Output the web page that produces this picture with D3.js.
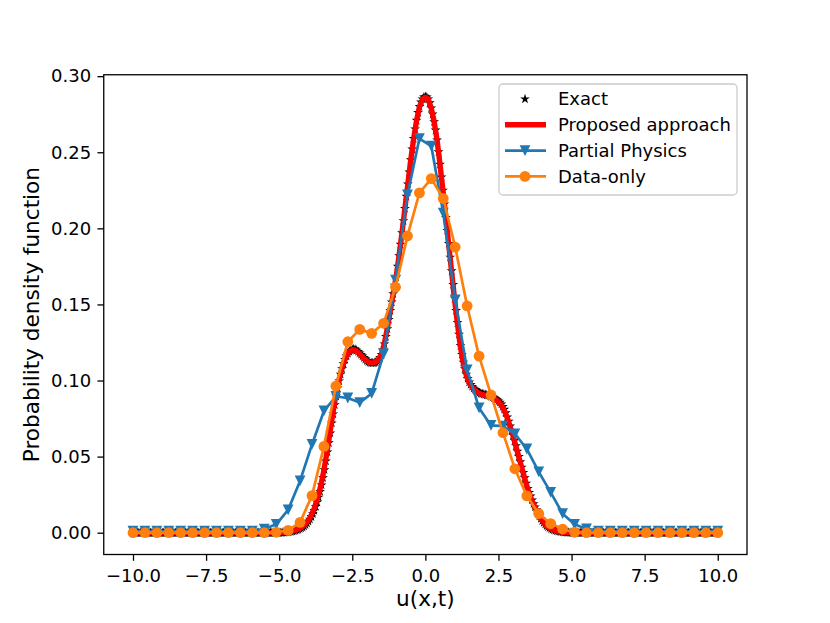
<!DOCTYPE html>
<html>
<head>
<meta charset="utf-8">
<script src="https://cdn.jsdelivr.net/npm/d3@7"></script>
<style>
body { margin: 0; background: #fff; }
svg { font-family: "DejaVu Sans", sans-serif; }
</style>
</head>
<body>
<div id="container"><svg></svg></div>
<script>
// exact solution, u = -10 .. 10 step 0.05
const exactVals = [
    0,0,0,0,0,0,0,0,0,0,0,0,0,0,0,0,0,0,0,0,
    0,0,0,0,0,0,0,0,0,0,0,0,0,0,0,0,0,0,0,0,
    0,0,0,0,0,0,0,0,0,0,0,0,0,0,0,0,0,0,0,0,
    0,0,0,0,0,0,0,0,0,0,0,0,0,0,0,0,0,0,0,0,
    0,0,0,0,0,0,0,0,0,0,0,0,0,0,0,0,0,0,0,0,
    0, 0.00005, 0.0001, 0.00015, 0.0002, 0.0003, 0.0004, 0.0005, 0.0007, 0.0009, 0.0011, 0.0014, 0.0017, 0.0021, 0.0025, 0.003, 0.0036, 0.0043, 0.0052, 0.0062,
    0.0074, 0.0088, 0.0105, 0.0124, 0.0145, 0.0171, 0.020, 0.0233, 0.027, 0.0313, 0.036, 0.0413, 0.047, 0.053, 0.059, 0.0655, 0.072, 0.078, 0.084, 0.0897,
    0.095, 0.0997, 0.104, 0.1077, 0.111, 0.1137, 0.116, 0.1177, 0.119, 0.1199, 0.1205, 0.1207, 0.1205, 0.1199, 0.119, 0.118, 0.117, 0.116, 0.115, 0.114,
    0.113, 0.1123, 0.1118, 0.1115, 0.1115, 0.1116, 0.112, 0.1126, 0.1135, 0.115, 0.117, 0.120, 0.124, 0.1288, 0.134, 0.140, 0.146, 0.1515, 0.157, 0.1625,
    0.168, 0.175, 0.182, 0.1895, 0.197, 0.205, 0.213, 0.221, 0.229, 0.237, 0.245, 0.252, 0.259, 0.2653, 0.271, 0.276, 0.280, 0.283, 0.285, 0.2862,
    0.2866,
    0.2862, 0.285, 0.2825, 0.279, 0.275, 0.270, 0.2645, 0.258, 0.2503, 0.242, 0.2337, 0.225, 0.216, 0.207, 0.1985, 0.190, 0.181, 0.172, 0.163, 0.154,
    0.146, 0.138, 0.1303, 0.123, 0.117, 0.112, 0.1077, 0.104, 0.1013, 0.099, 0.0973, 0.096, 0.0949, 0.094, 0.0932, 0.0925, 0.092, 0.0915, 0.0912, 0.091,
    0.0907, 0.0905, 0.0903, 0.090, 0.0895, 0.089, 0.0885, 0.088, 0.0873, 0.0865, 0.0856, 0.0845, 0.0829, 0.081, 0.0787, 0.076, 0.0731, 0.070, 0.067, 0.064,
    0.0605, 0.057, 0.0535, 0.050, 0.0465, 0.043, 0.0395, 0.036, 0.0325, 0.029, 0.0263, 0.024, 0.0214, 0.019, 0.0169, 0.015, 0.0129, 0.011, 0.0093, 0.0078,
    0.0066, 0.0055, 0.0046, 0.0038, 0.0032, 0.0026, 0.0021, 0.0017, 0.0014, 0.0011, 0.0009, 0.0007, 0.0005, 0.0004, 0.0003, 0.0002, 0.00015, 0.0001, 0.00005, 0,
    0,0,0,0,0,0,0,0,0,0,0,0,0,0,0,0,0,0,0,0,
    0,0,0,0,0,0,0,0,0,0,0,0,0,0,0,0,0,0,0,0,
    0,0,0,0,0,0,0,0,0,0,0,0,0,0,0,0,0,0,0,0,
    0,0,0,0,0,0,0,0,0,0,0,0,0,0,0,0,0,0,0,0,
    0,0,0,0,0,0,0,0,0,0,0,0,0,0,0,0,0,0,0,0
];

// proposed approach, u = -10 .. 10 step 0.1
const proposedVals = [
    0,0,0,0,0,0,0,0,0,0,0,0,0,0,0,0,0,0,0,0,0,0,0,0,0,
    0,0,0,0,0,0,0,0,0,0,0,0,0,0,0,0,0,0,0,0,0,0,0,0,0,
    0, 0.0001, 0.0002, 0.0005, 0.0008, 0.0013, 0.0019, 0.0028, 0.0040, 0.0058,
    0.0082, 0.0116, 0.016, 0.022, 0.029, 0.038, 0.049, 0.061, 0.074, 0.086,
    0.096, 0.105, 0.1115, 0.116, 0.119, 0.1202, 0.120, 0.1185, 0.1165, 0.1145,
    0.1128, 0.1117, 0.1115, 0.1122, 0.114, 0.1175, 0.1245, 0.1345, 0.146, 0.157,
    0.168, 0.182, 0.197, 0.213, 0.229, 0.245, 0.259, 0.271, 0.280, 0.2848,
    0.2862, 0.2848, 0.279, 0.270, 0.258, 0.242, 0.225, 0.207, 0.189, 0.171,
    0.153, 0.137, 0.122, 0.111, 0.1035, 0.0985, 0.0955, 0.0935, 0.092, 0.091,
    0.0905, 0.090, 0.0895, 0.0888, 0.0877, 0.086, 0.0838, 0.0803, 0.0755, 0.0697,
    0.0635, 0.0565, 0.0495, 0.0425, 0.0355, 0.0288, 0.0235, 0.0187, 0.0147, 0.0108,
    0.0076, 0.0053, 0.0036, 0.0024, 0.0016, 0.001, 0.0006, 0.0003, 0.0002, 0.0001,
    0,
    0,0,0,0,0,0,0,0,0,0,0,0,0,0,0,0,0,0,0,0,0,0,0,0,0,
    0,0,0,0,0,0,0,0,0,0,0,0,0,0,0,0,0,0,0,0,0,0,0,0,0
];

// 50 sample points from -10 to 10
const partialVals = [
    0.001, 0.001, 0.001, 0.001, 0.001, 0.001, 0.001, 0.001, 0.001, 0.001,
    0.001, 0.0024, 0.0055, 0.015, 0.034, 0.058, 0.080, 0.0895, 0.0885, 0.0855,
    0.0915, 0.1175, 0.166, 0.222, 0.259, 0.254, 0.210, 0.153, 0.107, 0.082,
    0.0705, 0.070, 0.065, 0.055, 0.040, 0.0265, 0.0125, 0.0055, 0.0025, 0.001,
    0.001, 0.001, 0.001, 0.001, 0.001, 0.001, 0.001, 0.001, 0.001, 0.001
];
const dataOnlyVals = [
    0, 0, 0, 0, 0, 0, 0, 0, 0, 0,
    0, 0, 0.0003, 0.0015, 0.0068, 0.0244, 0.0567, 0.0963, 0.1255, 0.1336,
    0.131, 0.1376, 0.1613, 0.195, 0.2233, 0.2327, 0.2196, 0.1877, 0.149, 0.116,
    0.0905, 0.0657, 0.042, 0.0242, 0.0125, 0.006, 0.0024, 0.0003, 0, 0,
    0, 0, 0, 0, 0, 0, 0, 0, 0, 0
];

const xTicks = [-10, -7.5, -5, -2.5, 0, 2.5, 5, 7.5, 10];
const yTicks = [0, 0.05, 0.10, 0.15, 0.20, 0.25, 0.30];
const legendNames = ['Exact', 'Proposed approach', 'Partial Physics', 'Data-only'];

let width = 830;
let height = 623;
let padding = {'left': 103.75, 'right': 83, 'top': 74.76, 'bottom': 68.5};

// sample grids (like np.linspace)
const exactU = d3.range(exactVals.length).map(i => -10 + i * 0.05);
const proposedU = d3.range(proposedVals.length).map(i => -10 + i * 0.1);
const sampleU = d3.range(partialVals.length).map(i => -10 + i * 20 / 49);

function draw_chart() {
    let svg = d3.select('#container').select('svg')
        .attr('width', width)
        .attr('height', height);

    // matplotlib style 5% margins
    let xExt = d3.extent(exactU);
    let yExt = d3.extent(exactVals.concat(proposedVals, partialVals, dataOnlyVals));
    let xm = (xExt[1] - xExt[0]) * 0.05;
    let ym = (yExt[1] - yExt[0]) * 0.05;
    let x = d3.scaleLinear().domain([xExt[0] - xm, xExt[1] + xm]).range([padding.left, width - padding.right]);
    let y = d3.scaleLinear().domain([yExt[0] - ym, yExt[1] + ym]).range([height - padding.bottom, padding.top]);

    let plot = svg.append('g');

    // exact: black stars
    let star = d3.symbol().type(d3.symbolStar).size(30);
    plot.append('g').selectAll('path')
        .data(exactVals)
        .enter()
        .append('path')
        .attr('transform', (d, i) => 'translate(' + x(exactU[i]) + ',' + y(d) + ')')
        .attr('d', star)
        .attr('fill', 'black');

    // proposed: thick red line
    let line = d3.line()
        .x(d => x(d[0]))
        .y(d => y(d[1]));
    plot.append('path')
        .datum(proposedVals.map((d, i) => [proposedU[i], d]))
        .attr('d', line)
        .attr('fill', 'none')
        .attr('stroke', 'red')
        .attr('stroke-width', 5.4)
        .attr('stroke-linejoin', 'round');

    // partial physics: blue line with down triangles
    let tri = 'M0,5.4L-5.4,-5.4L5.4,-5.4Z';
    plot.append('path')
        .datum(partialVals.map((d, i) => [sampleU[i], d]))
        .attr('d', line)
        .attr('fill', 'none')
        .attr('stroke', '#1f77b4')
        .attr('stroke-width', 2.7)
        .attr('stroke-linejoin', 'round');
    plot.append('g').selectAll('path')
        .data(partialVals)
        .enter()
        .append('path')
        .attr('transform', (d, i) => 'translate(' + x(sampleU[i]) + ',' + y(d) + ')')
        .attr('d', tri)
        .attr('fill', '#1f77b4');

    // data-only: orange line with circles
    plot.append('path')
        .datum(dataOnlyVals.map((d, i) => [sampleU[i], d]))
        .attr('d', line)
        .attr('fill', 'none')
        .attr('stroke', '#ff7f0e')
        .attr('stroke-width', 2.7)
        .attr('stroke-linejoin', 'round');
    plot.append('g').selectAll('circle')
        .data(dataOnlyVals)
        .enter()
        .append('circle')
        .attr('cx', (d, i) => x(sampleU[i]))
        .attr('cy', d => y(d))
        .attr('r', 5.4)
        .attr('fill', '#ff7f0e');

    // axes
    let xAxis = d3.axisBottom(x)
        .tickValues(xTicks)
        .tickFormat(d3.format('.1f'))
        .tickSize(6.3)
        .tickPadding(8);
    svg.append('g')
        .attr('transform', 'translate(0,' + (height - padding.bottom) + ')')
        .call(xAxis)
        .attr('font-size', 18)
        .attr('font-family', 'DejaVu Sans')
        .call(g => g.select('.domain').remove())
        .call(g => g.selectAll('line').attr('stroke-width', 1.3));

    let yAxis = d3.axisLeft(y)
        .tickValues(yTicks)
        .tickFormat(d3.format('.2f'))
        .tickSize(6.3)
        .tickPadding(6.3);
    svg.append('g')
        .attr('transform', 'translate(' + padding.left + ',0)')
        .call(yAxis)
        .attr('font-size', 18)
        .attr('font-family', 'DejaVu Sans')
        .call(g => g.select('.domain').remove())
        .call(g => g.selectAll('line').attr('stroke-width', 1.3));

    // frame
    svg.append('rect')
        .attr('x', padding.left)
        .attr('y', padding.top)
        .attr('width', width - padding.left - padding.right)
        .attr('height', height - padding.top - padding.bottom)
        .attr('fill', 'none')
        .attr('stroke', 'black')
        .attr('stroke-width', 1.3);

    // labels
    svg.append('text')
        .attr('x', (padding.left + width - padding.right) / 2)
        .attr('y', 606)
        .attr('text-anchor', 'middle')
        .attr('font-size', 21.6)
        .text('u(x,t)');
    svg.append('text')
        .attr('transform', 'translate(39,' + ((padding.top + height - padding.bottom) / 2) + ') rotate(-90)')
        .attr('text-anchor', 'middle')
        .attr('font-size', 21.6)
        .text('Probability density function');

    // legend
    let lg = svg.append('g').attr('transform', 'translate(499,84)');
    lg.append('rect')
        .attr('width', 238)
        .attr('height', 111)
        .attr('rx', 4)
        .attr('fill', 'white')
        .attr('fill-opacity', 0.8)
        .attr('stroke', '#cccccc')
        .attr('stroke-width', 1.3);
    let rowY = i => 15 + i * 25.8;
    lg.append('path').attr('transform', 'translate(26,' + rowY(0) + ')').attr('d', star).attr('fill', 'black');
    lg.append('line').attr('x1', 6).attr('x2', 47).attr('y1', rowY(1)).attr('y2', rowY(1))
        .attr('stroke', 'red').attr('stroke-width', 5.4);
    lg.append('line').attr('x1', 6).attr('x2', 47).attr('y1', rowY(2)).attr('y2', rowY(2))
        .attr('stroke', '#1f77b4').attr('stroke-width', 2.7);
    lg.append('path').attr('transform', 'translate(26,' + rowY(2) + ')').attr('d', tri).attr('fill', '#1f77b4');
    lg.append('line').attr('x1', 6).attr('x2', 47).attr('y1', rowY(3)).attr('y2', rowY(3))
        .attr('stroke', '#ff7f0e').attr('stroke-width', 2.7);
    lg.append('circle').attr('cx', 26).attr('cy', rowY(3)).attr('r', 5.4).attr('fill', '#ff7f0e');
    lg.selectAll('text.lab')
        .data(legendNames)
        .enter()
        .append('text')
        .attr('class', 'lab')
        .attr('x', 59)
        .attr('y', (d, i) => rowY(i))
        .attr('dy', '0.36em')
        .attr('font-size', 18)
        .text(d => d);
}

draw_chart();
</script>
</body>
</html>
